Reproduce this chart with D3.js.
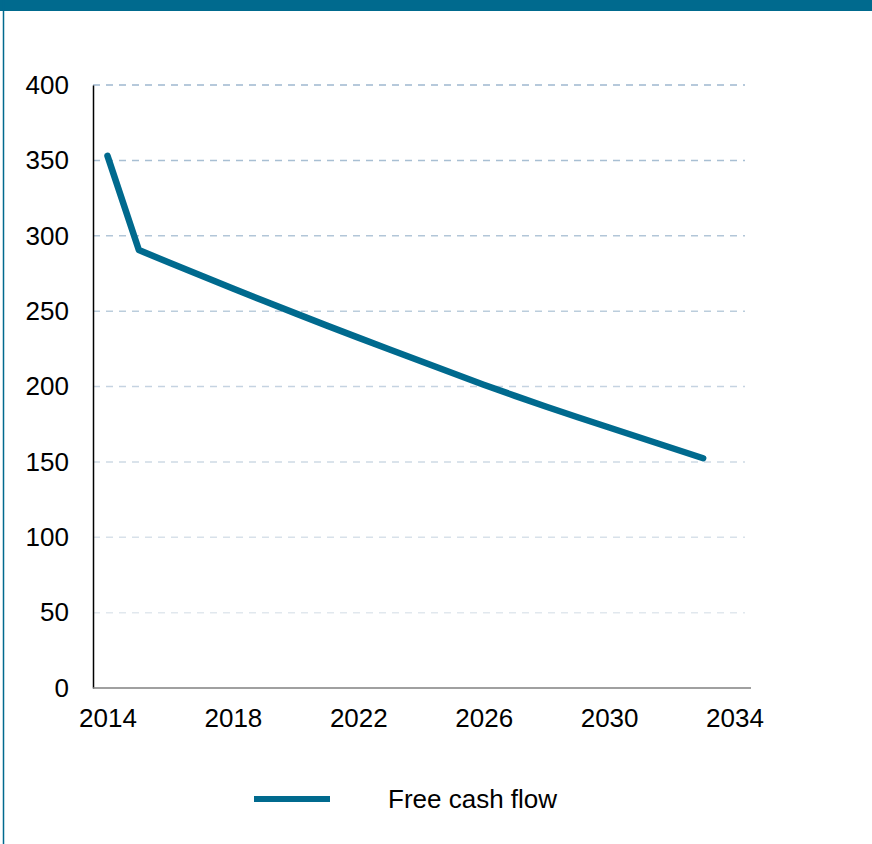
<!DOCTYPE html>
<html>
<head>
<meta charset="utf-8">
<script src="https://cdn.jsdelivr.net/npm/d3@7"></script>
<style>
  body { margin: 0; background: #fff; }
  text { font-family: "Liberation Sans", Arial, sans-serif; fill: #000; }
</style>
</head>
<body>
<div id="chart"></div>
<script>
// values
var years = [2014, 2015, 2016, 2017, 2018, 2019, 2020, 2021, 2022, 2023,
             2024, 2025, 2026, 2027, 2028, 2029, 2030, 2031, 2032, 2033];
var freeCashFlow = [353, 290.5, 281.9, 273.4, 265, 256.7, 248.5, 240.4, 232.4, 224.5,
                    216.7, 209, 201.2, 193.8, 186.6, 179.6, 172.8, 166, 159.2, 152.4];
var yTicks = [0, 50, 100, 150, 200, 250, 300, 350, 400];
var xTicks = [2014, 2018, 2022, 2026, 2030, 2034];
var seriesName = "Free cash flow";

var W = 872, H = 844;
var teal = "#006a8e";
var fontSize = "26px";

var svg = d3.select("#chart").append("svg")
    .attr("width", W).attr("height", H);

// frame: top bar and left rule
svg.append("rect").attr("x", 0).attr("y", 0).attr("width", W).attr("height", 11)
    .attr("fill", teal);
svg.append("line").attr("x1", 3.5).attr("x2", 3.5).attr("y1", 0).attr("y2", H)
    .attr("stroke", teal).attr("stroke-width", 1.5);

var x = d3.scaleLinear().domain([2014, 2034]).range([107.5, 734.5]);
var y = d3.scaleLinear().domain([0, 400]).range([688, 85]);
var left = 93, axisRight = 751, gridRight = 745;

// grid lines fade from top to bottom
var gridColor = d3.scaleLinear().domain([50, 400]).range(["#e1e8ee", "#9fb8cf"]);
svg.append("g").selectAll("line")
    .data(yTicks.filter(function (d) { return d > 0; }))
    .enter().append("line")
    .attr("x1", left).attr("x2", gridRight)
    .attr("y1", function (d) { return y(d); })
    .attr("y2", function (d) { return y(d); })
    .attr("stroke", function (d) { return gridColor(d); })
    .attr("stroke-width", 1.5)
    .attr("stroke-dasharray", "7,6");

// y axis
var yAxis = svg.append("g")
    .attr("transform", "translate(" + left + ",0)")
    .call(d3.axisLeft(y).tickValues(yTicks).tickSize(0).tickPadding(24));
yAxis.select(".domain").attr("stroke", "#000").attr("stroke-width", 1.5);
yAxis.selectAll("text").style("font-size", fontSize)
    .style("font-family", "'Liberation Sans', Arial, sans-serif");

// x axis
var xAxis = svg.append("g")
    .attr("transform", "translate(0," + y(0) + ")")
    .call(d3.axisBottom(x).tickValues(xTicks).tickFormat(d3.format("d"))
        .tickSize(0).tickPadding(21));
xAxis.select(".domain").remove();
xAxis.append("line").attr("x1", left).attr("x2", axisRight)
    .attr("stroke", "#808080").attr("stroke-width", 1.5);
xAxis.selectAll("text").style("font-size", fontSize)
    .style("font-family", "'Liberation Sans', Arial, sans-serif");

// series
var line = d3.line()
    .x(function (d, i) { return x(years[i]); })
    .y(function (d) { return y(d); });
svg.append("path").datum(freeCashFlow)
    .attr("d", line)
    .attr("fill", "none")
    .attr("stroke", teal)
    .attr("stroke-width", 6.5)
    .attr("stroke-linecap", "round")
    .attr("stroke-linejoin", "round");

// legend
var lg = svg.append("g").attr("transform", "translate(254,799)");
lg.append("line").attr("x1", 0).attr("x2", 76)
    .attr("stroke", teal).attr("stroke-width", 6);
lg.append("text").attr("x", 134).attr("y", 9)
    .style("font-size", fontSize).text(seriesName);
</script>
</body>
</html>
